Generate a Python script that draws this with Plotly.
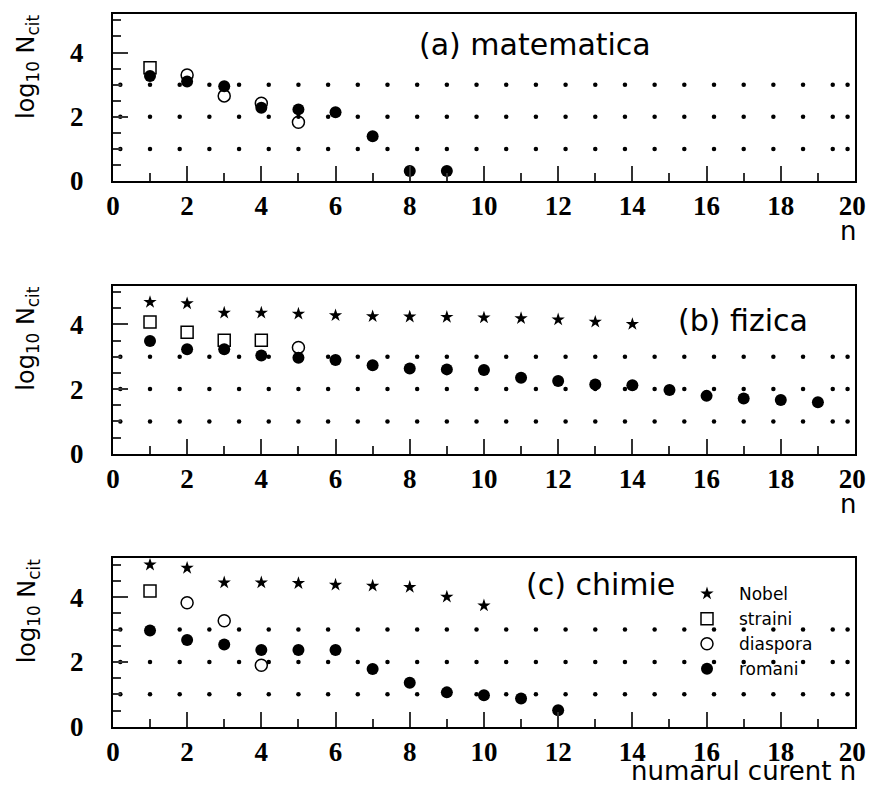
import numpy as np
import plotly.graph_objects as go

# ---------------- data (log10 of citations) ----------------
# (a) matematica
a_straini_n = [1]
a_straini = [3.53]
a_diaspora_n = [2, 3, 4, 5]
a_diaspora = [3.30, 2.65, 2.42, 1.83]
a_romani_n = [1, 2, 3, 4, 5, 6, 7, 8, 9]
a_romani = [3.27, 3.10, 2.95, 2.28, 2.23, 2.14, 1.39, 0.31, 0.31]

# (b) fizica
b_nobel_n = [1, 2, 3, 4, 5, 6, 7, 8, 9, 10, 11, 12, 13, 14]
b_nobel = [4.69, 4.65, 4.36, 4.36, 4.33, 4.28, 4.25, 4.24, 4.23, 4.21, 4.19, 4.15, 4.08, 4.01]
b_straini_n = [1, 2, 3, 4]
b_straini = [4.08, 3.76, 3.51, 3.51]
b_diaspora_n = [5]
b_diaspora = [3.29]
b_romani_n = [1, 2, 3, 4, 5, 6, 7, 8, 9, 10, 11, 12, 13, 14, 15, 16, 17, 18, 19]
b_romani = [3.49, 3.23, 3.23, 3.04, 2.97, 2.90, 2.74, 2.64, 2.61, 2.59,
            2.35, 2.25, 2.14, 2.12, 1.97, 1.79, 1.71, 1.66, 1.59]

# (c) chimie
c_nobel_n = [1, 2, 3, 4, 5, 6, 7, 8, 9, 10]
c_nobel = [5.00, 4.90, 4.45, 4.45, 4.43, 4.38, 4.35, 4.31, 4.01, 3.74]
c_straini_n = [1]
c_straini = [4.19]
c_diaspora_n = [2, 3, 4]
c_diaspora = [3.83, 3.27, 1.90]
c_romani_n = [1, 2, 3, 4, 5, 6, 7, 8, 9, 10, 11, 12]
c_romani = [2.97, 2.68, 2.54, 2.37, 2.37, 2.37, 1.78, 1.36, 1.06, 0.97, 0.87, 0.51]

panel_titles = ["(a) matematica", "(b) fizica", "(c) chimie"]
x_ticks = [0, 2, 4, 6, 8, 10, 12, 14, 16, 18, 20]
x_tick_labels = ["0", "2", "4", "6", "8", "10", "12", "14", "16", "18", "20\u2009"]
y_ticks = [0, 2, 4]
grid_levels = [1, 2, 3]
series_names = ["Nobel", "straini", "diaspora", "romani"]

# ---------------- layout geometry (target pixels in the 874x792 page) ----------------
OFF = 8                                  # default page margin of the html body
W, H = 874 - 2 * OFF, 792 - 2 * OFF      # figure size so that the page fits the window
X0, X1 = 112.9, 855.0
panels_px = [(14.0, 181.0), (285.7, 453.7), (558.3, 726.7)]


def py(v):
    return 1 - (v - OFF) / H


def px(v):
    return (v - OFF) / W


FONT_TXT = "DejaVu Sans"
FONT_NUM = "Liberation Serif"

fig = go.Figure()

panels = [
    dict(nobel=None, straini=(a_straini_n, a_straini), diaspora=(a_diaspora_n, a_diaspora),
         romani=(a_romani_n, a_romani)),
    dict(nobel=(b_nobel_n, b_nobel), straini=(b_straini_n, b_straini),
         diaspora=(b_diaspora_n, b_diaspora), romani=(b_romani_n, b_romani)),
    dict(nobel=(c_nobel_n, c_nobel), straini=(c_straini_n, c_straini),
         diaspora=(c_diaspora_n, c_diaspora), romani=(c_romani_n, c_romani)),
]

styles = {
    "Nobel": dict(symbol="star", size=10, color="black", line=dict(width=0)),
    "straini": dict(symbol="square-open", size=12, color="black", line=dict(width=1.5)),
    "diaspora": dict(symbol="circle-open", size=12, color="black", line=dict(width=1.5)),
    "romani": dict(symbol="circle", size=12, color="black", line=dict(width=0)),
}
ranks = {"Nobel": 1, "straini": 2, "diaspora": 3, "romani": 4}

# dotted grid dots (decorative)
dot_x = list(np.round(np.arange(0.2, 19.5, 0.8), 2)) + [19.8]

for i, p in enumerate(panels):
    xa = "x" if i == 0 else f"x{i+1}"
    ya = "y" if i == 0 else f"y{i+1}"
    gx, gy = [], []
    for lvl in grid_levels:
        gx += dot_x
        gy += [lvl] * len(dot_x)
    fig.add_trace(go.Scatter(x=gx, y=gy, mode="markers", xaxis=xa, yaxis=ya,
                             marker=dict(symbol="circle", size=4.5, color="black"),
                             showlegend=False, hoverinfo="skip"))
    for name in series_names:
        d = p[name.lower()]
        if d is None:
            continue
        fig.add_trace(go.Scatter(x=d[0], y=d[1], mode="markers", xaxis=xa, yaxis=ya,
                                 name=name, marker=styles[name],
                                 showlegend=(i == 2), legendrank=ranks[name]))

axis_common = dict(showline=True, mirror=True, linewidth=2, linecolor="black",
                   showgrid=False, zeroline=False, ticks="inside", tickcolor="#333",
                   tickwidth=1.5, automargin=False, ticklabeloverflow="allow")

annotations = []
for i, (t, b) in enumerate(panels_px):
    suf = "" if i == 0 else str(i + 1)
    fig.layout[f"xaxis{suf}"] = dict(
        axis_common, domain=[px(X0), px(X1)], range=[0, 20], anchor=f"y{suf}",
        tickvals=x_ticks, ticktext=x_tick_labels, ticklen=15,
        minor=dict(dtick=1, tick0=0, ticklen=8, ticks="inside", tickcolor="#333", tickwidth=1.5),
        tickfont=dict(family=FONT_NUM, size=27, weight="bold", color="black"),
        ticklabelstandoff=0)
    fig.layout[f"yaxis{suf}"] = dict(
        axis_common, domain=[py(b), py(t)], range=[0, 5.2], anchor=f"x{suf}",
        tickvals=y_ticks, ticklen=15,
        minor=dict(dtick=0.5, tick0=0, ticklen=8, ticks="inside", tickcolor="#333", tickwidth=1.5),
        tickfont=dict(family=FONT_NUM, size=27, weight="bold", color="black"),
        ticklabelstandoff=22)
    # y title, aligned to the top of the panel
    annotations.append(dict(text="log<sub>10</sub> N<sub>cit</sub>", textangle=-90,
                            xref="paper", yref="paper", x=px(28), y=py(t - 1),
                            xanchor="center", yanchor="top", showarrow=False,
                            font=dict(family=FONT_TXT, size=24, color="black")))
    # x title
    if i < 2:
        annotations.append(dict(text="n", xref="paper", yref="paper", x=px(858), y=py(b + 50),
                                xanchor="right", yanchor="middle", showarrow=False,
                                font=dict(family=FONT_TXT, size=26, color="black")))
    else:
        annotations.append(dict(text="numarul curent n", xref="paper", yref="paper",
                                x=px(858), y=py(771), xanchor="right", yanchor="middle",
                                showarrow=False,
                                font=dict(family=FONT_TXT, size=26, color="black")))

title_pos = [(535, 44), (743, 320), (600, 584)]
for (cx, cy), txt in zip(title_pos, panel_titles):
    annotations.append(dict(text=txt, xref="paper", yref="paper", x=px(cx), y=py(cy),
                            xanchor="center", yanchor="middle", showarrow=False,
                            font=dict(family=FONT_TXT, size=30, color="black")))

fig.update_layout(
    width=W, height=H, margin=dict(l=0, r=0, t=0, b=0, autoexpand=False),
    paper_bgcolor="white", plot_bgcolor="white",
    annotations=annotations,
    legend=dict(x=px(675), y=py(576), xanchor="left", yanchor="top",
                bgcolor="rgba(0,0,0,0)", font=dict(family=FONT_TXT, size=17, color="black"),
                traceorder="normal", itemwidth=54),
)

fig.write_html("out.html")
